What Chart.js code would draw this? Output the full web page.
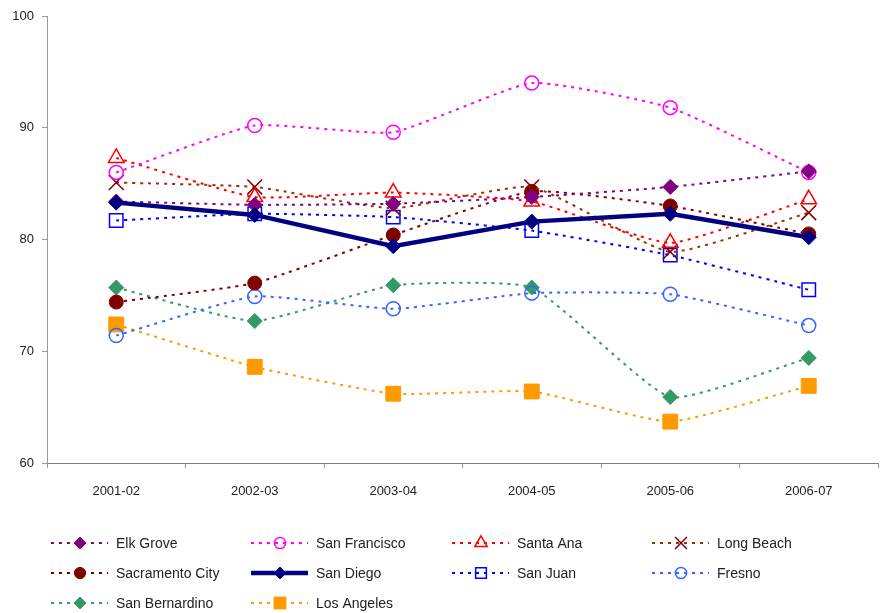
<!DOCTYPE html>
<html>
<head>
<meta charset="utf-8">
<script src="https://cdn.jsdelivr.net/npm/chart.js@4"></script>
<style>
  html, body { margin: 0; padding: 0; background: #fff; overflow: hidden; }
  #wrap { width: 890px; height: 613px; }
</style>
</head>
<body>
<div id="wrap"><canvas id="lineChart" width="890" height="613"></canvas></div>
<script>
const categories = ['2001-02', '2002-03', '2003-04', '2004-05', '2005-06', '2006-07'];

const elkGrove       = [83.4, 83.1, 83.2, 83.8, 84.7, 86.1];
const sanFrancisco   = [86.0, 90.2, 89.6, 94.0, 91.8, 86.0];
const santaAna       = [87.3, 83.8, 84.2, 83.4, 79.7, 83.6];
const longBeach      = [85.1, 84.7, 82.8, 84.7, 78.9, 82.4];
const sacramentoCity = [74.4, 76.1, 80.4, 84.3, 83.0, 80.5];
const sanDiego       = [83.3, 82.2, 79.4, 81.6, 82.3, 80.2];
const sanJuan        = [81.7, 82.3, 82.0, 80.8, 78.6, 75.5];
const fresno         = [71.4, 74.9, 73.8, 75.2, 75.1, 72.3];
const sanBernardino  = [75.7, 72.7, 75.9, 75.7, 65.9, 69.4];
const losAngeles     = [72.4, 68.6, 66.2, 66.4, 63.7, 66.9];

const yTicks = [60, 70, 80, 90, 100];

const FONT = "'Liberation Sans', Arial, sans-serif";
const DOTS = [3, 5];

function series(label, data, lineColor, markColor, style, radius, filled, extra) {
    return Object.assign({
        label: label,
        data: data,
        borderColor: lineColor,
        borderWidth: 2,
        borderDash: DOTS,
        tension: 0.15,
        fill: false,
        pointStyle: style,
        pointRadius: radius,
        pointBorderColor: markColor,
        pointBackgroundColor: filled ? markColor : 'rgba(0,0,0,0)',
        pointBorderWidth: filled ? 1 : 1.5
    }, extra || {});
}

const datasets = [
    series('Elk Grove', elkGrove, '#800080', '#800080', 'rectRot', 7.5, true),
    series('San Francisco', sanFrancisco, '#FF00FF', '#FF00FF', 'circle', 7, false),
    series('Santa Ana', santaAna, '#FF0000', '#FF0000', 'triangle', 9, false),
    series('Long Beach', longBeach, '#993300', '#800000', 'crossRot', 10.5, false),
    series('Sacramento City', sacramentoCity, '#800000', '#800000', 'circle', 7, true),
    series('San Diego', sanDiego, '#000080', '#000080', 'rectRot', 7.5, true,
        { borderWidth: 4.5, borderDash: [], tension: 0, order: -1 }),
    series('San Juan', sanJuan, '#0000FF', '#0000FF', 'rect', 9.5, false),
    series('Fresno', fresno, '#3366FF', '#3366FF', 'circle', 7, false),
    series('San Bernardino', sanBernardino, '#339966', '#339966', 'rectRot', 7.5, true),
    series('Los Angeles', losAngeles, '#FF9900', '#FF9900', 'rect', 10.5, true)
];

// legend drawn as a 4-column grid under the axis
const gridLegend = {
    id: 'gridLegend',
    afterDraw(chart) {
        const ctx = chart.ctx;
        const colX = [51, 251, 452, 652];
        const rowY = [543, 573, 603];
        ctx.save();
        chart.data.datasets.forEach((ds, i) => {
            const x = colX[i % 4];
            const y = rowY[Math.floor(i / 4)];
            ctx.save();
            ctx.strokeStyle = ds.borderColor;
            ctx.lineWidth = ds.borderWidth;
            ctx.setLineDash(ds.borderDash);
            ctx.beginPath();
            ctx.moveTo(x, y);
            ctx.lineTo(x + 57, y);
            ctx.stroke();
            ctx.restore();
            ctx.save();
            ctx.strokeStyle = ds.pointBorderColor;
            ctx.fillStyle = ds.pointBackgroundColor;
            ctx.lineWidth = ds.pointBorderWidth;
            Chart.helpers.drawPoint(ctx, {
                pointStyle: ds.pointStyle,
                radius: ds.pointRadius * 0.8,
                borderWidth: ds.pointBorderWidth,
                rotation: 0
            }, x + 29, y);
            ctx.restore();
            ctx.fillStyle = '#222';
            ctx.font = '14px ' + FONT;
            ctx.textBaseline = 'middle';
            ctx.textAlign = 'left';
            ctx.fillText(ds.label, x + 65, y + 1);
        });
        ctx.restore();
    }
};

new Chart(document.getElementById('lineChart').getContext('2d'), {
    type: 'line',
    data: { labels: categories, datasets: datasets },
    options: {
        responsive: false,
        animation: false,
        layout: { padding: { top: 16, right: 1, left: 0, bottom: 0 } },
        plugins: {
            legend: { display: false },
            tooltip: { enabled: false }
        },
        scales: {
            x: {
                offset: true,
                grid: { offset: true, drawOnChartArea: false, drawTicks: true, tickLength: 5, color: '#999' },
                border: { color: '#808080', width: 1 },
                ticks: { color: '#222', font: { family: FONT, size: 13 }, padding: 16, maxRotation: 0 },
                afterFit(scale) { scale.height = 150; }
            },
            y: {
                min: 60,
                max: 100,
                afterBuildTicks(scale) { scale.ticks = yTicks.map(v => ({ value: v })); },
                grid: { drawOnChartArea: false, drawTicks: true, tickLength: 5, color: '#999' },
                border: { color: '#999', width: 1 },
                ticks: { color: '#222', font: { family: FONT, size: 13 }, padding: 8 },
                afterFit(scale) { scale.width = 47; }
            }
        }
    },
    plugins: [gridLegend]
});
</script>
</body>
</html>
